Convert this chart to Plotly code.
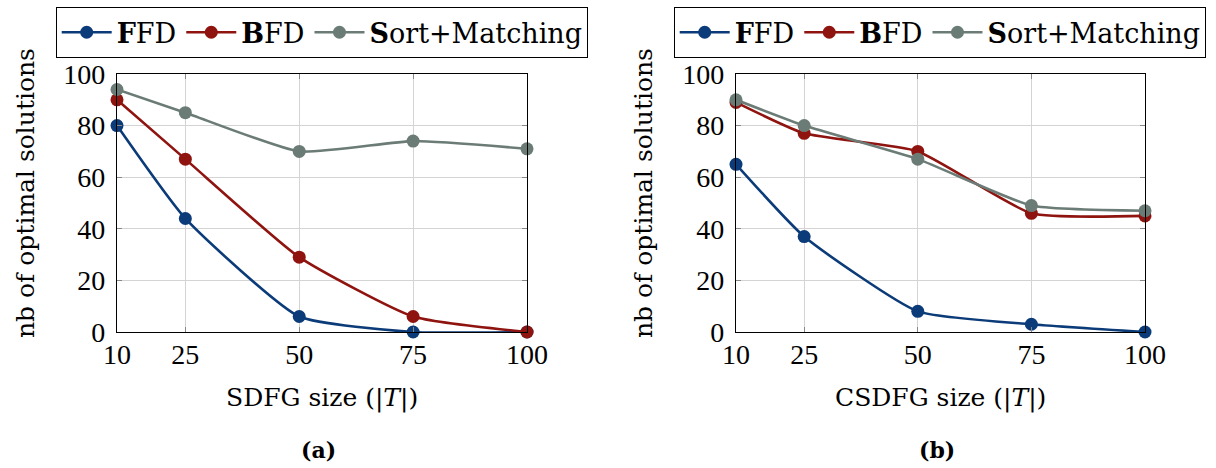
import plotly.graph_objects as go

sizes = [10, 25, 50, 75, 100]
series_names = ["<b>F</b>FD", "<b>B</b>FD", "<b>S</b>ort+Matching"]
colors = ["#0b3b78", "#8f1410", "#6b7b75"]

# panel (a) SDFG
a_ffd = [80, 44, 6, 0, 0]
a_bfd = [90, 67, 29, 6, 0]
a_sm = [94, 85, 70, 74, 71]
# panel (b) CSDFG
b_ffd = [65, 37, 8, 3, 0]
b_bfd = [89, 77, 70, 46, 45]
b_sm = [90, 80, 67, 49, 47]

y_ticks = [0, 20, 40, 60, 80, 100]
x_titles = ["SDFG size (|<i>T</i>|)", "CSDFG size (|<i>T</i>|)"]
y_title = "nb of optimal solutions"
captions = ["<b>(a)</b>", "<b>(b)</b>"]

TXT = "DejaVu Serif"
NUM = "Liberation Serif"
W, H = 1216, 468
fig = go.Figure()

panels = [(a_ffd, a_bfd, a_sm), (b_ffd, b_bfd, b_sm)]
for p, data in enumerate(panels):
    for i, vals in enumerate(data):
        fig.add_trace(go.Scatter(
            x=sizes, y=vals, name=series_names[i], mode="lines+markers",
            line=dict(color=colors[i], width=2.6, shape="spline", smoothing=0.5),
            marker=dict(color=colors[i], size=13),
            xaxis="x" if p == 0 else "x2", yaxis="y" if p == 0 else "y2",
            legend="legend" if p == 0 else "legend2",
            cliponaxis=False,
        ))

axis_common = dict(
    showline=True, linecolor="black", linewidth=1.2, mirror="ticks",
    ticks="inside", ticklen=5, tickcolor="#888888", tickwidth=1,
    showgrid=True, gridcolor="#d4d4d4", gridwidth=1, zeroline=False,
    automargin=False,
    tickfont=dict(family=NUM, size=28, color="black"),
)

x_domains = [[117/W, 527/W], [736/W, 1145/W]]
y_domain = [1 - 332/H, 1 - 74/H]

layout = dict(
    width=W, height=H,
    margin=dict(l=0, r=0, t=0, b=0),
    paper_bgcolor="white", plot_bgcolor="white",
    font=dict(family=TXT, color="black"),
    showlegend=True,
)
for p in range(2):
    sx = "" if p == 0 else "2"
    layout["xaxis" + sx] = dict(
        axis_common, domain=x_domains[p], range=[10, 100],
        tickvals=sizes, anchor="y" + sx, ticklabelstandoff=-3,
    )
    layout["yaxis" + sx] = dict(
        axis_common, domain=y_domain, range=[0, 100],
        tickvals=y_ticks, anchor="x" + sx, ticklabelstandoff=5,
    )
    layout["legend" + ("" if p == 0 else "2")] = dict(
        orientation="h", x=[322/W, 940/W][p], y=1 - 7/H,
        xanchor="center", yanchor="top",
        bordercolor="black", borderwidth=1.2, bgcolor="white",
        font=dict(family=TXT, size=27), tracegroupgap=0, itemwidth=50,
    )

fig.update_layout(**layout)

y_title_x = [25, 643]
for p in range(2):
    cx = sum(x_domains[p]) / 2
    fig.add_annotation(
        text=x_titles[p], xref="paper", yref="paper",
        x=cx, y=1 - 398/H, showarrow=False,
        font=dict(family=TXT, size=25), xanchor="center", yanchor="middle",
    )
    fig.add_annotation(
        text=y_title, xref="paper", yref="paper",
        x=y_title_x[p]/W, y=1 - 193/H, showarrow=False, textangle=-90,
        font=dict(family=TXT, size=25), xanchor="center", yanchor="middle",
    )
    fig.add_annotation(
        text=captions[p], xref="paper", yref="paper",
        x=cx - 0.003, y=1 - 450/H,
        showarrow=False, font=dict(family=TXT, size=22),
        xanchor="center", yanchor="middle",
    )

fig.write_html("out.html", config={"displayModeBar": False},
               post_script="document.body.style.margin='0px';")
